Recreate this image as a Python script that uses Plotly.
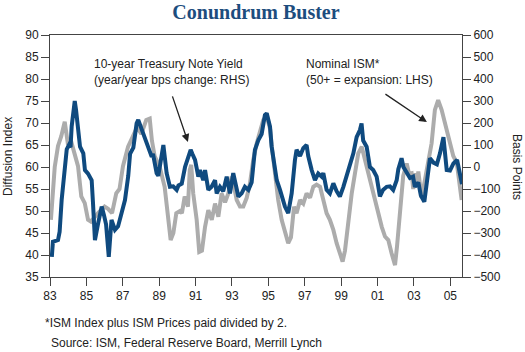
import plotly.graph_objects as go

# ---- data (decimal years) ----
ism_years = [1983.05,1983.26,1983.44,1983.62,1983.81,1983.99,1984.15,1984.36,1984.54,1984.72,1984.91,
             1985.09,1985.25,1985.64,1986.0,1986.19,1986.41,1986.64,1986.82,1987.01,1987.29,1987.56,
             1987.78,1988.02,1988.29,1988.48,1988.6,1988.75,1989.03,1989.3,1989.48,1989.63,1989.78,
             1989.94,1990.14,1990.25,1990.4,1990.58,1990.68,1990.76,1990.87,1991.06,1991.2,1991.35,
             1991.52,1991.7,1991.89,1992.07,1992.25,1992.43,1992.62,1992.8,1992.98,1993.07,1993.26,
             1993.44,1993.62,1993.81,1993.99,1994.17,1994.36,1994.54,1994.72,1994.91,1995.1,1995.18,
             1995.36,1995.54,1995.73,1995.91,1996.09,1996.24,1996.41,1996.55,1996.74,1996.92,1997.1,
             1997.29,1997.47,1997.65,1997.84,1998.02,1998.2,1998.38,1998.57,1998.75,1998.93,1999.08,
             1999.21,1999.39,1999.58,1999.76,1999.94,2000.13,2000.31,2000.49,2000.68,2000.86,2001.04,
             2001.23,2001.41,2001.59,2001.77,2001.96,2002.07,2002.23,2002.41,2002.6,2002.73,2002.87,
             2002.96,2003.05,2003.15,2003.24,2003.42,2003.6,2003.79,2003.97,2004.15,2004.33,2004.52,
             2004.7,2004.86,2004.97,2005.16,2005.35,2005.52,2005.62]
ism_values = [48,60,64.8,67,70.3,65,66,62.5,60.2,53.3,51.8,
              48,47.6,49.5,51,50.5,49.5,54,55,60.2,64.6,67,
              69,67.5,70.7,71,66,62.5,60,55.5,48,43.4,45,
              49.5,50,49.5,53.3,51,59.3,60.5,54,48,40.7,41,
              46.4,50.2,48,51.7,48.7,54,52,54,57.8,56.5,52.5,
              51,51,53,56.3,61.6,65.4,68,70.7,71.6,68.5,65,
              57.8,52.5,48,44.9,42.7,44,51,49.5,52.5,51.7,54,
              53,55.5,56,55.5,52.5,49.5,48,45.7,42.7,40,38.5,
              41,48,54,58.6,63.1,64.6,61.6,58.6,54.8,52.5,48.7,
              46.4,44.2,43.4,40.4,37.7,42,51,58,60.8,58.5,58.6,
              55,58.6,56,59,53,57,61.6,65.4,73,75.2,73,
              69.9,68,65.4,62.5,61,55.5,52.5]

tsy_years = [1983.1,1983.16,1983.44,1983.53,1983.64,1983.82,1983.92,1984.04,1984.13,1984.19,1984.36,
             1984.43,1984.55,1984.65,1984.83,1984.92,1985.09,1985.29,1985.36,1985.47,1985.65,1985.84,
             1985.97,1986.08,1986.23,1986.38,1986.57,1986.74,1986.93,1987.12,1987.3,1987.4,1987.58,
             1987.76,1987.85,1988.04,1988.22,1988.41,1988.59,1988.66,1988.86,1988.95,1989.14,1989.23,
             1989.41,1989.59,1989.77,1989.96,1990.06,1990.24,1990.42,1990.6,1990.73,1990.82,1990.97,
             1991.15,1991.24,1991.42,1991.52,1991.7,1991.88,1992.07,1992.16,1992.34,1992.52,1992.71,
             1992.89,1993.07,1993.16,1993.35,1993.53,1993.71,1993.9,1994.08,1994.26,1994.45,1994.63,
             1994.81,1994.91,1995.0,1995.09,1995.18,1995.36,1995.46,1995.64,1995.91,1996.09,1996.28,
             1996.46,1996.55,1996.74,1996.92,1997.1,1997.19,1997.38,1997.56,1997.74,1997.93,1998.02,
             1998.2,1998.38,1998.57,1998.75,1998.93,1999.12,1999.3,1999.48,1999.67,1999.85,2000.03,
             2000.12,2000.21,2000.4,2000.58,2000.76,2000.95,2001.13,2001.3,2001.5,2001.68,2001.86,
             2002.05,2002.14,2002.32,2002.42,2002.6,2002.78,2002.95,2003.05,2003.24,2003.38,2003.57,
             2003.7,2003.88,2004.07,2004.26,2004.43,2004.62,2004.71,2004.8,2004.98,2005.17,2005.37,
             2005.55,2005.64]
tsy_values = [-408,-340,-332,-294,-150,28,80,100,90,184,300,
              260,184,92,62,-14,-30,-60,-160,-332,-254,-180,
              -220,-260,-408,-240,-286,-270,-210,-150,-40,60,88,
              198,214,170,122,80,46,60,-28,-40,62,100,
              -28,-90,-88,-104,-84,-76,0,54,78,60,32,
              -44,-14,-60,-14,-104,-90,-60,-120,-90,-110,-44,
              -120,-28,-60,-134,-120,-90,-104,-70,78,122,150,
              236,244,220,184,92,-14,-60,-104,-180,-210,-120,
              32,78,50,86,100,50,-14,-60,-30,-44,-28,
              -104,-120,-74,-110,-134,-90,-44,0,62,136,168,
              198,120,92,0,-14,-44,-134,-104,-90,-88,-104,
              -60,-10,40,0,-28,-50,-44,-90,-70,-130,-158,
              -80,40,20,12,62,136,60,-14,-16,16,32,
              -50,-78]

tick_years = [1983,1985,1987,1989,1991,1993,1995,1997,1999,2001,2003,2005]
tick_labels = ["83","85","87","89","91","93","95","97","99","01","03","05"]

BLUE = "#0f4a7f"
GRAY = "#acacac"
AX = "#444444"
FONT = "Liberation Sans, Arial, sans-serif"

fig = go.Figure()
fig.add_trace(go.Scatter(x=ism_years, y=ism_values, mode="lines",
                         line=dict(color=GRAY, width=4), yaxis="y", showlegend=False))
fig.add_trace(go.Scatter(x=tsy_years, y=tsy_values, mode="lines",
                         line=dict(color=BLUE, width=4), yaxis="y2", showlegend=False))

# plot area in pixels: x 50..462, y 35..277
L, R, T, B = 50, 462, 35, 277
W, H = R - L, B - T
def px(x): return (x - L) / W
def py(y): return (B - y) / H

fig.update_layout(
    width=525, height=352,
    margin=dict(l=L, r=525 - R, t=T, b=352 - B),
    paper_bgcolor="white", plot_bgcolor="white",
    font=dict(family=FONT, size=12, color="#222222"),
    title=dict(text="Conundrum Buster", x=256/525, xref="container", xanchor="center",
               y=1 - 12/352, yref="container", yanchor="middle",
               font=dict(family="Liberation Serif, DejaVu Serif, serif", size=20,
                         color="#1d4d7e", weight="bold")),
    xaxis=dict(range=[1983, 2005.64], tickvals=tick_years, ticktext=tick_labels,
               showgrid=False, zeroline=False, showline=True, linecolor=AX, linewidth=1,
               mirror=True, ticks="outside", ticklen=8, tickcolor=AX, tickwidth=1,
               tickfont=dict(size=12, color="#222")),
    yaxis=dict(range=[35, 90], tickvals=list(range(35, 91, 5)), showgrid=False, zeroline=False,
               showline=True, linecolor=AX, linewidth=1, ticks="outside", ticklen=8,
               tickcolor=AX, tickwidth=1, tickfont=dict(size=12, color="#222")),
    yaxis2=dict(range=[-500, 600], tickvals=list(range(-500, 601, 100)), overlaying="y",
                side="right", showgrid=False, zeroline=False, showline=True, linecolor=AX,
                linewidth=1, ticks="outside", ticklen=8, tickcolor=AX, tickwidth=1,
                tickfont=dict(size=12, color="#222")),
)

ann = []
ann.append(dict(text="Diffusion Index", textangle=-90, xref="paper", yref="paper",
                x=px(8), y=py(157), xanchor="center", yanchor="middle", showarrow=False,
                font=dict(size=12, color="#222")))
ann.append(dict(text="Basis Points", textangle=90, xref="paper", yref="paper",
                x=px(517), y=py(167), xanchor="center", yanchor="middle", showarrow=False,
                font=dict(size=12, color="#222")))
ann.append(dict(text="10-year Treasury Note Yield<br>(year/year bps change: RHS)",
                xref="paper", yref="paper", x=px(92), y=py(71.5), xanchor="left",
                yanchor="middle", align="left", showarrow=False,
                font=dict(size=12, color="#222")))
ann.append(dict(text="Nominal ISM*<br>(50+ = expansion: LHS)",
                xref="paper", yref="paper", x=px(304), y=py(71.5), xanchor="left",
                yanchor="middle", align="left", showarrow=False,
                font=dict(size=12, color="#222")))
# arrows (data coords, left axis)
ann.append(dict(text="", x=1990.58, y=65.7, ax=1989.7, ay=76.4, xref="x", yref="y",
                axref="x", ayref="y", showarrow=True, arrowhead=2, arrowsize=1.2,
                arrowwidth=1.3, arrowcolor="#222"))
ann.append(dict(text="", x=2003.71, y=70.2, ax=2001.35, ay=76.8, xref="x", yref="y",
                axref="x", ayref="y", showarrow=True, arrowhead=2, arrowsize=1.2,
                arrowwidth=1.3, arrowcolor="#222"))
ann.append(dict(text="*ISM Index plus ISM Prices paid divided by 2.", xref="paper", yref="paper",
                x=px(43), y=py(323), xanchor="left", yanchor="middle", showarrow=False,
                font=dict(size=12, color="#222")))
ann.append(dict(text="Source: ISM, Federal Reserve Board, Merrill Lynch", xref="paper",
                yref="paper", x=px(49), y=py(343), xanchor="left", yanchor="middle",
                showarrow=False, font=dict(size=12, color="#222")))
fig.update_layout(annotations=ann)

fig.write_html("out.html")
